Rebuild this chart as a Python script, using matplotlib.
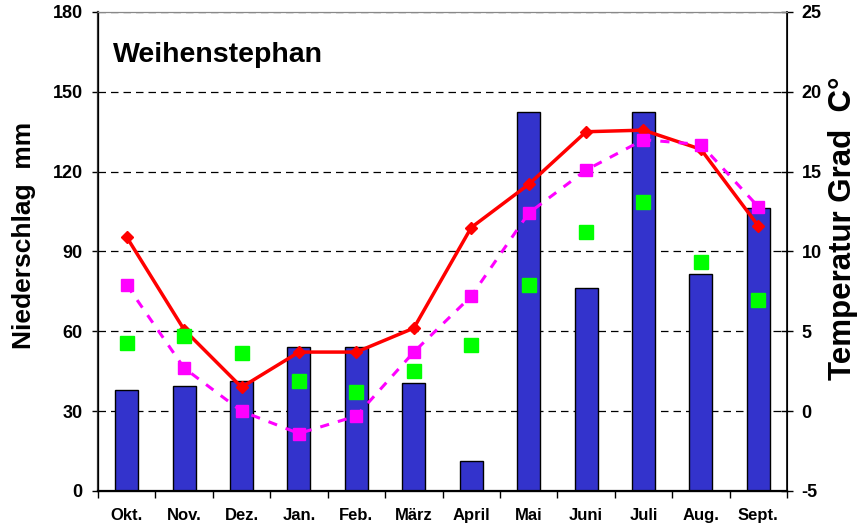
import numpy as np
import matplotlib.pyplot as plt

plt.rcParams['font.family'] = ['Liberation Sans', 'DejaVu Sans']
plt.rcParams['font.weight'] = 'bold'
plt.rcParams['axes.unicode_minus'] = False

months = ["Okt.", "Nov.", "Dez.", "Jan.", "Feb.", "März", "April",
          "Mai", "Juni", "Juli", "Aug.", "Sept."]
# Niederschlag (mm), linke Achse
niederschlag = [37.8, 39.3, 41.3, 54.2, 54.0, 40.6, 11.2,
                142.4, 76.2, 142.4, 81.7, 106.2]
niederschlag_mittel = [55.6, 58.4, 51.7, 41.2, 37.1, 45.0, 54.9,
                       77.5, 97.5, 108.7, 86.1, 71.9]
# Temperatur (Grad C), rechte Achse
temperatur = [10.9, 5.1, 1.5, 3.7, 3.7, 5.2, 11.5,
              14.2, 17.5, 17.6, 16.4, 11.6]
temperatur_mittel = [7.9, 2.7, 0.0, -1.4, -0.3, 3.7, 7.2,
                     12.4, 15.1, 17.0, 16.7, 12.8]

x = np.arange(len(months))

fig = plt.figure(figsize=(8.59, 5.28), dpi=100)
ax = fig.add_axes([0.1141, 0.0701, 0.8021, 0.9072])

ax.bar(x, niederschlag, width=0.4, color="#3333CC", edgecolor="black",
       linewidth=1, zorder=2)
ax.set_ylim(0, 180)
ax.set_yticks(np.arange(0, 181, 30))
ax.yaxis.grid(True, linestyle=(0, (6, 4)), color="black", linewidth=0.9)
ax.set_axisbelow(True)

ax.set_xlim(-0.5, 11.5)
ax.set_xticks(x)
ax.set_xticklabels(months)
ax.set_xticks(np.arange(-0.5, 12, 1), minor=True)
ax.tick_params(axis="x", which="major", length=0, pad=12, labelsize=12)
ax.tick_params(axis="x", which="minor", length=5, width=1, direction="out")
ax.tick_params(axis="y", length=4, width=1, direction="out", pad=7,
               labelsize=13)

for side in ["left", "bottom"]:
    ax.spines[side].set_linewidth(1.6)
ax.spines["left"].set_color("#333333")
ax.spines["top"].set_color("#888888")

ax2 = ax.twinx()
ax2.plot(x, temperatur, color="red", linewidth=2.5, marker="D",
         markersize=6, zorder=3)
ax2.plot(x, temperatur_mittel, color="#FF00FF", linewidth=2.2,
         linestyle=(0, (3, 3)), marker="s", markersize=8.5, zorder=4)
ax2.plot(x, niederschlag_mittel, transform=ax.transData, linestyle="none",
         marker="s", color="#00FF00", markersize=10, zorder=5)
ax2.set_ylim(-5, 25)
ax2.set_yticks(np.arange(-5, 26, 5))
ax2.tick_params(axis="y", length=9, width=1, direction="inout", pad=6,
                labelsize=13)
ax2.spines["right"].set_linewidth(1.2)
ax2.spines["top"].set_color("#888888")

fig.text(24 / 859, 1 - 235 / 528, "Niederschlag  mm", rotation=90,
         ha="center", va="center", fontsize=19, fontweight="bold")
fig.text(843 / 859, 1 - 228 / 528, "Temperatur Grad  C°", rotation=90,
         ha="center", va="center", fontsize=22.5, fontweight="bold")
fig.text(113 / 859, 1 - 62 / 528, "Weihenstephan", ha="left",
         va="baseline", fontsize=20.5, fontweight="bold")

fig.savefig("out.png", dpi=100)
